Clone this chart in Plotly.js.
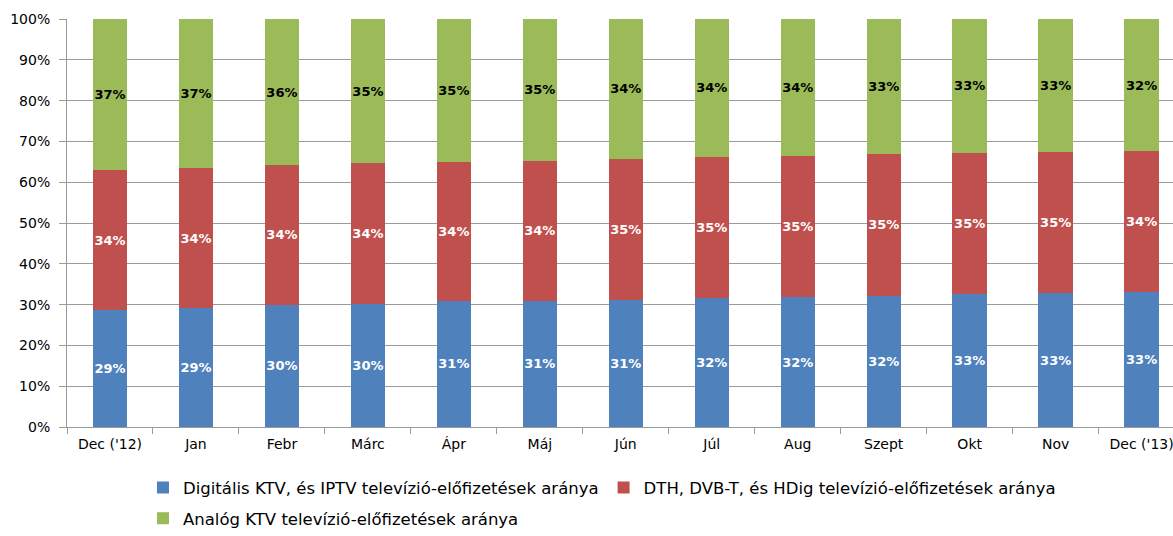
<!DOCTYPE html>
<html>
<head>
<meta charset="utf-8">
<script src="https://cdn.plot.ly/plotly-3.0.1.min.js"></script>
<style>
  html, body { margin: 0; padding: 0; background: #fff; }
  #chart { width: 1173px; height: 536px; }
</style>
</head>
<body>
<div id="chart"></div>
<script>
const categories = ["Dec ('12)", "Jan", "Febr", "Márc", "Ápr", "Máj", "Jún", "Júl", "Aug", "Szept", "Okt", "Nov", "Dec ('13)"];
const digitalis = [28.6, 29.2, 30.0, 30.2, 30.9, 30.9, 31.2, 31.6, 31.8, 32.2, 32.6, 32.8, 33.2];
const dthDvb = [34.4, 34.2, 34.2, 34.4, 34.0, 34.3, 34.6, 34.6, 34.6, 34.7, 34.6, 34.6, 34.4];
const analog = [37.0, 36.6, 35.8, 35.4, 35.1, 34.8, 34.2, 33.8, 33.6, 33.1, 32.8, 32.6, 32.4];
const seriesNames = [
  "Digitális KTV, és IPTV televízió-előfizetések aránya",
  "DTH, DVB-T, és HDig televízió-előfizetések aránya",
  "Analóg KTV televízió-előfizetések aránya"
];
const yTickVals = [0, 10, 20, 30, 40, 50, 60, 70, 80, 90, 100];
const yTickText = ["0%", "10%", "20%", "30%", "40%", "50%", "60%", "70%", "80%", "90%", "100%"];

const FONT = "DejaVu Sans";
function barTrace(values, name, color, textColor, legendId) {
  return {
    type: "bar",
    x: categories,
    y: values,
    name: name,
    legend: legendId,
    marker: { color: color, line: { width: 0 } },
    texttemplate: "%{y:.0f}%",
    textposition: "inside",
    insidetextanchor: "middle",
    textangle: 0,
    constraintext: "none",
    textfont: { family: FONT, size: 13, weight: "bold", color: textColor },
    hoverinfo: "skip"
  };
}

const data = [
  barTrace(digitalis, seriesNames[0], "#4F81BD", "#ffffff", "legend"),
  barTrace(dthDvb, seriesNames[1], "#C0504D", "#ffffff", "legend"),
  barTrace(analog, seriesNames[2], "#9BBB59", "#000000", "legend2")
];

const layout = {
  width: 1173,
  height: 536,
  margin: { l: 67, r: 0, t: 19, b: 107, pad: 0 },
  barmode: "stack",
  bargap: 0.6,
  paper_bgcolor: "#ffffff",
  plot_bgcolor: "#ffffff",
  font: { family: FONT, size: 14, color: "#000000" },
  xaxis: {
    type: "category",
    range: [-0.5, 12.365],
    showgrid: false,
    showline: true,
    linecolor: "#9a9a9a",
    linewidth: 1,
    ticks: "outside",
    tickson: "boundaries",
    ticklen: 6,
    tickcolor: "#9a9a9a",
    tickfont: { family: FONT, size: 14, color: "#000000" },
    ticklabelstandoff: 4,
    fixedrange: true
  },
  yaxis: {
    range: [0, 100],
    tickmode: "array",
    tickvals: yTickVals,
    ticktext: yTickText,
    showgrid: true,
    gridcolor: "#9a9a9a",
    gridwidth: 1,
    showline: true,
    linecolor: "#9a9a9a",
    linewidth: 1,
    ticks: "outside",
    ticklen: 7,
    tickcolor: "#9a9a9a",
    tickfont: { family: FONT, size: 14, color: "#000000" },
    ticklabelstandoff: 6,
    zeroline: false,
    fixedrange: true
  },
  showlegend: true,
  legend: {
    orientation: "h",
    x: 0.0687,
    xanchor: "left",
    y: -0.1488,
    yanchor: "middle",
    font: { family: FONT, size: 16.5, color: "#000000" },
    bgcolor: "rgba(0,0,0,0)",
    traceorder: "normal"
  },
  legend2: {
    orientation: "h",
    x: 0.0687,
    xanchor: "left",
    y: -0.2244,
    yanchor: "middle",
    font: { family: FONT, size: 16.5, color: "#000000" },
    bgcolor: "rgba(0,0,0,0)"
  }
};

Plotly.newPlot("chart", data, layout, { staticPlot: true, displayModeBar: false });
</script>
</body>
</html>
